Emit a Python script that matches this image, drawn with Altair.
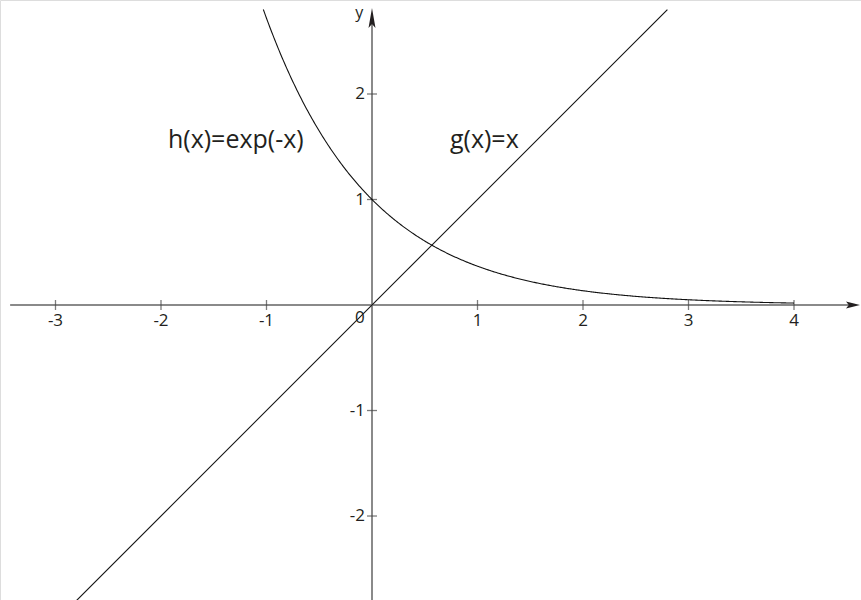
import altair as alt
import pandas as pd

# Tick positions and labels on the two axes
x_ticks = [-3, -2, -1, 1, 2, 3, 4]
x_tick_labels = ["-3", "-2", "-1", "1", "2", "3", "4"]
y_ticks = [-2, -1, 1, 2]
y_tick_labels = ["-2", "-1", "1", "2"]

# Plotted functions: h(x)=exp(-x) on [-1.03, 4], g(x)=x on [-2.8, 2.8]
h_start, h_end, h_step = -1.03, 4.0, 0.01
g_ends = [-2.8, 2.8]

# Visible window of the coordinate plane
X_DOMAIN = [-3.526, 4.635]
Y_DOMAIN = [-2.796, 2.891]

# Extent of the drawn axis lines and arrow heads
X_AXIS_FROM, X_AXIS_TO, X_ARROW_AT = -3.43, 4.55, 4.559
Y_AXIS_FROM, Y_AXIS_TO, Y_ARROW_AT = -2.796, 2.70, 2.72

FONT = "Open Sans"
AXIS_GRAY = "#8a8a8a"
INK = "#231f20"
TICK_FS = 17
NAME_FS = 25

xs = alt.Scale(domain=X_DOMAIN, nice=False, zero=False)
ys = alt.Scale(domain=Y_DOMAIN, nice=False, zero=False)


def X(v):
    return alt.X(v, type="quantitative", scale=xs, axis=None)


def Y(v):
    return alt.Y(v, type="quantitative", scale=ys, axis=None)


def XD(v):
    return alt.XDatum(v, scale=xs, axis=None)


def YD(v):
    return alt.YDatum(v, scale=ys, axis=None)


one = pd.DataFrame({"k": [0]})

# Axis lines
x_axis = alt.Chart(one).mark_rule(color=AXIS_GRAY, strokeWidth=2).encode(
    x=XD(X_AXIS_FROM), x2=alt.X2Datum(X_AXIS_TO), y=YD(0)
)
y_axis = alt.Chart(one).mark_rule(color=AXIS_GRAY, strokeWidth=2).encode(
    x=XD(0), y=YD(Y_AXIS_FROM), y2=alt.Y2Datum(Y_AXIS_TO)
)

# Arrow heads
x_arrow = alt.Chart(one).mark_point(
    shape="M1,0L-1,-0.5L-0.6,0L-1,0.5Z", size=196, filled=True,
    color=INK, opacity=1, strokeWidth=0
).encode(x=XD(X_ARROW_AT), y=YD(0))
y_arrow = alt.Chart(one).mark_point(
    shape="M0,-1L-0.35,1L0,0.6L0.35,1Z", size=400, filled=True,
    color=INK, opacity=1, strokeWidth=0
).encode(x=XD(0), y=YD(Y_ARROW_AT))

# Tick marks crossing the axes
xt_df = pd.DataFrame({"v": x_ticks, "lab": x_tick_labels})
yt_df = pd.DataFrame({"v": y_ticks, "lab": y_tick_labels})

x_tick_marks = alt.Chart(xt_df).mark_tick(
    orient="vertical", size=10, thickness=1.3, color="#444"
).encode(x=X("v"), y=YD(0))
y_tick_marks = alt.Chart(yt_df).mark_tick(
    orient="horizontal", size=10, thickness=1.3, color="#444"
).encode(x=XD(0), y=Y("v"))

# Tick labels
x_tick_text = alt.Chart(xt_df).mark_text(
    font=FONT, fontSize=TICK_FS, color=INK, align="center", baseline="middle", dy=16
).encode(x=X("v"), y=YD(0), text="lab:N")
y_tick_text = alt.Chart(yt_df).mark_text(
    font=FONT, fontSize=TICK_FS, color=INK, align="right", baseline="middle", dx=-7
).encode(x=XD(0), y=Y("v"), text="lab:N")
origin_text = alt.Chart(one).mark_text(
    font=FONT, fontSize=TICK_FS, color=INK, align="center", baseline="middle", text="0"
).encode(x=XD(-0.114), y=YD(-0.125))
y_name = alt.Chart(one).mark_text(
    font=FONT, fontSize=16, color=INK, align="center", baseline="middle", text="y"
).encode(x=XD(-0.12), y=YD(2.77))

# Curves
h_curve = (
    alt.Chart(alt.sequence(h_start, h_end + h_step / 2, h_step, as_="x"))
    .transform_calculate(y="exp(-datum.x)")
    .mark_line(color="#111", strokeWidth=1.1, clip=True)
    .encode(x=X("x"), y=Y("y"))
)
g_line = (
    alt.Chart(pd.DataFrame({"x": g_ends}))
    .transform_calculate(y="datum.x")
    .mark_line(color="#111", strokeWidth=1.1, clip=True)
    .encode(x=X("x"), y=Y("y"))
)

# Function names
h_label = alt.Chart(one).mark_text(
    font=FONT, fontSize=NAME_FS, color=INK, align="left", baseline="middle",
    text="h(x)=exp(-x)"
).encode(x=XD(-1.934), y=YD(1.564))
g_label = alt.Chart(one).mark_text(
    font=FONT, fontSize=NAME_FS, color=INK, align="left", baseline="middle",
    text="g(x)=x"
).encode(x=XD(0.739), y=YD(1.564))

chart = alt.layer(
    x_axis, y_axis, x_tick_marks, y_tick_marks, x_arrow, y_arrow,
    h_curve, g_line,
    x_tick_text, y_tick_text, origin_text, y_name, h_label, g_label,
).properties(
    width=861, height=600, padding=0, autosize=alt.AutoSizeParams(type="none")
).configure_view(stroke=None).configure(background="white")

chart.save("out.html", embed_options={"renderer": "svg", "actions": False})
